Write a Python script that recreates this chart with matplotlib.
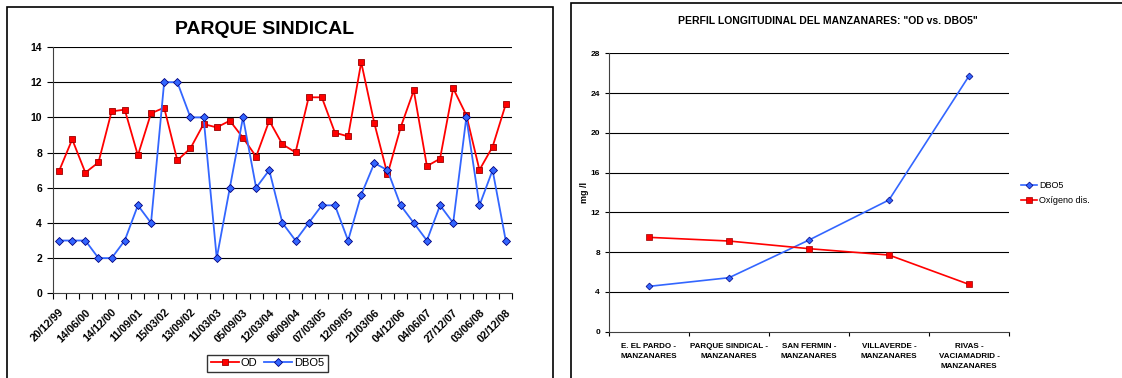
import matplotlib
matplotlib.use('Agg')
import matplotlib.pyplot as plt
from matplotlib.patches import Rectangle
import numpy as np

plt.rcParams['font.family'] = ['Liberation Sans', 'DejaVu Sans']

# left chart: PARQUE SINDICAL, 35 samples, every other date labelled
date_labels = ['20/12/99', '14/06/00', '14/12/00', '11/09/01', '15/03/02', '13/09/02',
               '11/03/03', '05/09/03', '12/03/04', '06/09/04', '07/03/05', '12/09/05',
               '21/03/06', '04/12/06', '04/06/07', '27/12/07', '03/06/08', '02/12/08']
od = [6.95, 8.75, 6.86, 7.44, 10.34, 10.44, 7.84, 10.23, 10.55, 7.56, 8.24, 9.62,
      9.43, 9.81, 8.84, 7.77, 9.81, 8.47, 8.01, 11.14, 11.14, 9.13, 8.92, 13.13,
      9.66, 6.76, 9.43, 11.53, 7.23, 7.65, 11.65, 10.13, 7.01, 8.33, 10.74]
dbo5 = [3, 3, 3, 2, 2, 3, 5, 4, 12, 12, 10, 10, 2, 6, 10, 6, 7, 4, 3, 4,
        5, 5, 3, 5.6, 7.4, 7, 5, 4, 3, 5, 4, 10, 5, 7, 3]

# right chart: longitudinal profile
stations = ['E. EL PARDO -\nMANZANARES', 'PARQUE SINDICAL -\nMANZANARES',
            'SAN FERMIN -\nMANZANARES', 'VILLAVERDE -\nMANZANARES',
            'RIVAS -\nVACIAMADRID -\nMANZANARES']
perfil_dbo5 = [4.56, 5.43, 9.22, 13.25, 25.72]
perfil_od = [9.49, 9.12, 8.35, 7.71, 4.76]

RED = '#FF0000'
BLUE = '#3366FF'

fig = plt.figure(figsize=(11.22, 3.78), dpi=100)
W, H = 1122, 378

# chart frames
fig.patches.append(Rectangle((7 / W, -0.01), 546 / W, 1 - 7 / H + 0.01, transform=fig.transFigure,
                             fill=False, edgecolor='black', lw=1.2))
fig.patches.append(Rectangle((571 / W, -0.01), 1 - 571 / W + 0.01, 1 - 3 / H + 0.01,
                             transform=fig.transFigure, fill=False, edgecolor='black', lw=1.2))

# ---- left ----
ax = fig.add_axes([52.5 / W, 84.7 / H, 459.8 / W, 246.3 / H])
x = np.arange(len(od))
l_od, = ax.plot(x, od, color=RED, lw=1.3, marker='s', ms=5, mfc=RED, mec='#990000', mew=0.6,
                label='OD', zorder=3)
l_dbo, = ax.plot(x, dbo5, color=BLUE, lw=1.3, marker='D', ms=4.5, mfc=BLUE, mec='#000080', mew=0.6,
                 label='DBO5', zorder=3)
ax.set_xlim(-0.5, len(od) - 0.5)
ax.set_ylim(0, 14)
ax.set_yticks(range(0, 15, 2))
for yv in range(2, 15, 2):
    ax.axhline(yv, color='black', lw=0.8, zorder=1)
ax.set_xticks(np.arange(0, len(od), 2))
ax.set_xticklabels(date_labels, rotation=45, ha='right', rotation_mode='anchor',
                   fontsize=7.8, fontweight='bold')
ax.set_xticks(np.arange(-0.5, len(od), 1), minor=True)
ax.tick_params(axis='x', which='major', length=0, pad=10)
ax.tick_params(axis='x', which='minor', length=4, width=0.8, direction='out')
ax.tick_params(axis='y', length=4, width=0.8, labelsize=7.5)
for t in ax.get_yticklabels():
    t.set_fontweight('bold')
for s in ['top', 'right']:
    ax.spines[s].set_visible(False)
ax.spines['left'].set_color('#404040')
ax.spines['bottom'].set_color('#404040')
fig.text(265 / W, 1 - 29 / H, 'PARQUE SINDICAL', ha='center', va='center',
         fontsize=14, fontweight='bold')
leg = fig.legend(handles=[l_od, l_dbo], loc='upper center', bbox_to_anchor=(267.5 / W, 1 - 355 / H),
                 ncol=2, fontsize=8, frameon=True, fancybox=False, edgecolor='black',
                 handlelength=2.5, columnspacing=0.6, handletextpad=0.2, borderpad=0.3,
                 borderaxespad=0)
leg.get_frame().set_linewidth(1.0)

# ---- right ----
ax2 = fig.add_axes([609 / W, 46.3 / H, 400 / W, 278.4 / H])
xs = np.arange(len(stations))
r_dbo, = ax2.plot(xs, perfil_dbo5, color=BLUE, lw=1.2, marker='D', ms=3.5, mfc=BLUE, mec='#000080',
                  mew=0.5, label='DBO5', zorder=3)
r_od, = ax2.plot(xs, perfil_od, color=RED, lw=1.2, marker='s', ms=4, mfc=RED, mec='#990000',
                 mew=0.5, label='Oxígeno dis.', zorder=3)
ax2.set_xlim(-0.5, len(stations) - 0.5)
ax2.set_ylim(0, 28)
ax2.set_yticks(range(0, 29, 4))
for yv in range(4, 29, 4):
    ax2.axhline(yv, color='black', lw=0.8, zorder=1)
ax2.set_xticks(xs)
ax2.set_xticklabels(stations, fontsize=5.8, fontweight='bold', linespacing=1.6)
ax2.set_xticks(np.arange(-0.5, len(stations), 1), minor=True)
ax2.tick_params(axis='x', which='major', length=0, pad=8)
ax2.tick_params(axis='x', which='minor', length=3, width=0.8, direction='out')
ax2.tick_params(axis='y', length=3, width=0.8, labelsize=6)
for t in ax2.get_yticklabels():
    t.set_fontweight('bold')
for s in ['top', 'right']:
    ax2.spines[s].set_visible(False)
ax2.spines['left'].set_color('#404040')
ax2.spines['bottom'].set_color('#404040')
ax2.set_ylabel('mg /l', fontsize=6.5, fontweight='bold', labelpad=1)
fig.text(828 / W, 1 - 21 / H, 'PERFIL LONGITUDINAL DEL MANZANARES: "OD vs. DBO5"',
         ha='center', va='center', fontsize=7.5, fontweight='bold')
fig.legend(handles=[r_dbo, r_od], loc='center left', bbox_to_anchor=(1013 / W, 1 - 193 / H),
           fontsize=6.5, frameon=False, handlelength=1.8, handletextpad=0.2, labelspacing=0.6)

fig.savefig('out.png', dpi=100)
